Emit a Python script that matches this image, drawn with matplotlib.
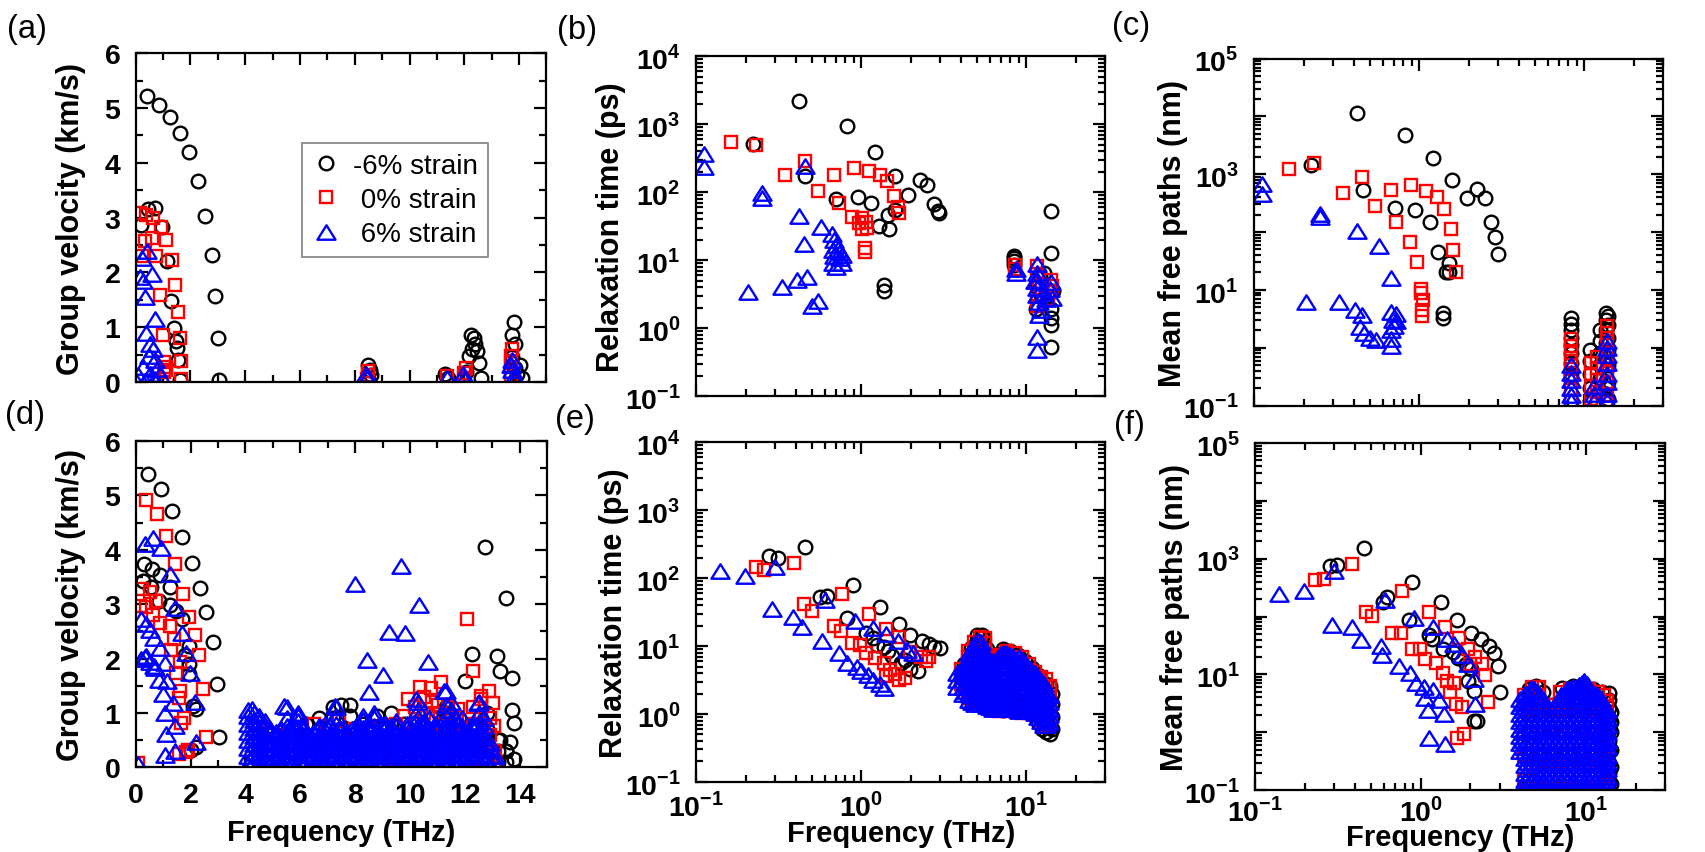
import numpy as np
import matplotlib.pyplot as plt
from matplotlib.path import Path
from matplotlib.ticker import MultipleLocator, LogLocator, NullFormatter, FuncFormatter

plt.rcParams['font.family'] = ['Liberation Sans', 'DejaVu Sans']
plt.rcParams['font.weight'] = 'bold'
plt.rcParams['axes.labelweight'] = 'bold'
plt.rcParams['mathtext.fontset'] = 'custom'
plt.rcParams['mathtext.rm'] = 'Liberation Sans'
plt.rcParams['mathtext.bf'] = 'Liberation Sans:bold'

# ---------------------------------------------------------------------------
# data (frequency in THz)
# ---------------------------------------------------------------------------

# (a) group velocity, km/s
a_black_f = [0.43, 0.85, 1.25, 1.63, 1.96, 2.28, 2.53, 2.77, 2.91, 3.02, 3.05,
             0.2, 0.45, 0.7, 0.95, 1.15, 1.3, 1.4, 1.47, 1.5, 1.53, 1.6,
             8.5, 8.55, 8.6, 8.5, 11.3, 11.4,
             12.25, 12.34, 12.4, 12.27, 12.17, 12.47, 12.53, 12.6, 12.08,
             13.81, 13.73, 13.86, 14.03, 13.94, 14.1, 13.75, 13.85]
a_black_v = [5.22, 5.05, 4.83, 4.55, 4.19, 3.67, 3.03, 2.32, 1.57, 0.81, 0.03,
             2.87, 3.15, 3.18, 2.83, 2.2, 1.48, 0.99, 0.75, 0.62, 0.4, 0.03,
             0.3, 0.22, 0.12, 0.05, 0.15, 0.07,
             0.86, 0.8, 0.7, 0.6, 0.47, 0.57, 0.34, 0.07, 0.18,
             1.09, 0.86, 0.7, 0.31, 0.14, 0.08, 0.45, 0.25]
a_red_f = [0.17, 0.39, 0.63, 0.91, 0.33, 0.59, 1.1, 0.23, 0.74, 1.31, 1.44, 0.87,
           1.54, 0.98, 1.63, 1.04, 1.67, 1.11, 1.67, 1.05, 1.12,
           8.45, 8.5, 8.5, 11.38, 12.0, 12.0, 12.05,
           13.73, 13.71, 13.69, 13.7, 13.72]
a_red_v = [3.08, 3.05, 3.0, 2.83, 2.58, 2.63, 2.59, 2.3, 2.3, 2.23, 1.77, 1.59,
           1.28, 0.86, 0.81, 0.37, 0.39, 0.21, 0.05, 0.18, 0.28,
           0.05, 0.12, 0.2, 0.1, 0.08, 0.17, 0.25,
           0.6, 0.47, 0.34, 0.18, 0.05]
a_blue_f = [0.42, 0.23, 0.59, 0.17, 0.26, 0.35, 0.69, 0.39, 0.52, 0.63, 0.48, 0.72,
            0.26, 0.78, 0.51, 0.08, 0.87, 0.69, 0.33, 0.02,
            8.42, 8.45, 11.36, 11.95, 12.0, 13.73, 13.7, 13.76, 13.8, 13.84]
a_blue_v = [2.39, 2.26, 1.97, 1.92, 1.84, 1.55, 1.15, 0.89, 0.7, 0.6, 0.47, 0.4,
            0.27, 0.24, 0.15, 0.12, 0.12, 0.05, 0.02, 0.02,
            0.14, 0.07, 0.08, 0.14, 0.05, 0.4, 0.31, 0.21, 0.11, 0.05]

# (d) group velocity, km/s : isolated points
d_black_f = [0.46, 0.91, 1.31, 1.7, 2.05, 2.35, 2.58, 2.81, 2.96, 3.03,
             0.3, 0.59, 0.87, 0.26, 0.57, 1.24, 0.85, 1.24, 1.48, 1.7, 1.96, 1.8,
             1.93, 1.96, 2.1, 2.2, 2.2, 2.02,
             12.75, 13.51, 12.25, 13.19, 13.29, 13.73, 12.0, 13.71, 13.8, 13.64,
             13.8, 13.5, 13.3]
d_black_v = [5.39, 5.12, 4.71, 4.24, 3.76, 3.3, 2.86, 2.3, 1.54, 0.56,
             3.73, 3.65, 3.54, 3.42, 3.31, 3.32, 3.05, 2.98, 2.88, 2.73, 2.23, 2.06,
             1.89, 1.71, 1.12, 1.07, 0.37, 0.32,
             4.05, 3.11, 2.09, 2.05, 1.77, 1.64, 1.59, 1.05, 0.82, 0.46,
             0.16, 0.3, 0.5]
d_red_f = [0.39, 0.76, 1.11, 1.44, 1.72, 1.93, 2.15, 2.32, 2.45, 2.56,
           0.24, 0.51, 0.17, 0.39, 0.75, 0.63, 0.87, 1.24, 1.39, 1.3, 1.6, 1.48,
           1.62, 1.58, 1.76, 1.66, 1.82, 1.58, 1.9, 0.07,
           12.08, 12.31, 11.14, 10.77, 10.38, 9.92, 12.89, 13.03, 12.6, 11.03,
           11.75, 13.05, 12.73, 13.03, 13.05]
d_red_v = [4.91, 4.66, 4.25, 3.73, 3.19, 2.76, 2.44, 2.06, 1.43, 0.55,
           3.28, 3.22, 2.97, 2.95, 3.05, 2.8, 2.65, 2.59, 2.36, 2.16, 1.94, 1.73,
           1.4, 1.27, 0.91, 0.81, 0.28, 0.25, 0.32, 0.07,
           2.73, 1.77, 1.56, 1.45, 1.47, 1.25, 1.4, 1.18, 1.31, 1.15,
           1.08, 0.76, 0.36, 0.23, 0.1]
d_blue_f = [0.33, 0.63, 0.94, 1.24, 1.44, 1.67, 1.83, 1.98, 2.15, 2.19,
            0.2, 0.39, 0.52, 0.68, 0.89, 0.2, 0.39, 0.65, 0.85, 1.07, 1.14, 0.98,
            1.37, 1.07, 1.44, 1.11, 1.08, 1.44, 0.33, 0.51, 0.69, 0.08,
            8.0, 9.66, 10.34, 9.23, 9.83, 8.42, 10.67, 9.01, 8.52, 11.23, 10.22,
            7.27, 5.42, 5.91, 4.24, 11.68, 12.47]
d_blue_v = [4.11, 4.22, 4.04, 3.56, 2.92, 2.46, 2.1, 1.73, 1.2, 0.46,
            2.73, 2.63, 2.53, 2.37, 2.2, 2.0, 2.04, 1.87, 1.61, 1.92, 1.58, 1.35,
            1.18, 0.99, 0.76, 0.62, 0.23, 0.3, 2.03, 1.94, 1.83, 0.05,
            3.37, 3.71, 2.99, 2.48, 2.47, 1.97, 1.94, 1.69, 1.38, 1.41, 1.25,
            1.12, 1.12, 0.99, 1.08, 0.89, 1.18]
# (d) optical band, listed per frequency column: (f, [velocities])
d_black_band = [(4.7, [0.1, 0.4, 0.7]), (5.2, [0.1, 0.4, 0.6]), (5.7, [0.1, 0.4, 0.7]),
                (6.2, [0.1, 0.4, 0.8]), (6.7, [0.1, 0.45, 0.9]), (7.2, [0.1, 0.5, 0.9, 1.1]),
                (7.5, [0.3, 0.7, 1.15]), (7.8, [0.1, 0.5, 0.95, 1.15]), (8.3, [0.1, 0.4, 0.8]),
                (8.8, [0.1, 0.5, 0.95]), (9.3, [0.1, 0.5, 1.0]), (9.8, [0.1, 0.4, 0.8]),
                (10.3, [0.1, 0.5, 0.85]), (10.8, [0.1, 0.5, 0.9]), (11.3, [0.1, 0.5, 1.0, 1.1]),
                (11.8, [0.1, 0.5, 0.9]), (12.3, [0.1, 0.4, 0.8]), (12.8, [0.1, 0.4, 0.7, 1.0]),
                (13.2, [0.1, 0.3, 0.5]), (13.5, [0.1, 0.3])]
d_red_band = [(4.5, [0.1, 0.4, 0.7]), (5.0, [0.1, 0.4, 0.6]), (5.5, [0.1, 0.4, 0.6]),
              (6.0, [0.1, 0.4, 0.7]), (6.5, [0.1, 0.4, 0.8]), (7.0, [0.1, 0.4, 0.75]),
              (7.4, [0.1, 0.45, 0.85]), (8.0, [0.1, 0.4, 0.7]), (8.5, [0.1, 0.4, 0.7]),
              (9.0, [0.1, 0.4, 0.75]), (9.5, [0.1, 0.4, 0.8]), (9.8, [0.2, 0.6, 0.95]),
              (10.2, [0.1, 0.4, 0.8, 1.1]), (10.5, [0.2, 0.6, 1.0, 1.3]),
              (10.8, [0.1, 0.5, 0.9, 1.2]), (11.1, [0.2, 0.6, 1.0]),
              (11.4, [0.1, 0.5, 0.9, 1.1]), (11.7, [0.2, 0.6, 0.9]), (12.0, [0.1, 0.4, 0.7]),
              (12.3, [0.1, 0.4, 0.8, 1.1]), (12.6, [0.2, 0.5, 0.9, 1.25]),
              (12.9, [0.1, 0.3, 0.6, 0.9]), (13.1, [0.1, 0.3])]
d_blue_band = [
    (4.1, [0.05, 0.2, 0.35, 0.5, 0.65, 0.8, 0.95, 1.05]),
    (4.3, [0.12, 0.27, 0.42, 0.57, 0.72, 0.87, 1.0]),
    (4.5, [0.0, 0.09, 0.24, 0.39, 0.54, 0.69, 0.84, 0.95]),
    (4.7, [0.16, 0.31, 0.46, 0.61, 0.76, 0.85]),
    (4.9, [0.05, 0.2, 0.35, 0.5, 0.65, 0.7]),
    (5.1, [0.12, 0.27, 0.42, 0.57, 0.65]),
    (5.3, [0.0, 0.09, 0.24, 0.39, 0.54, 0.7]),
    (5.5, [0.16, 0.31, 0.46, 0.61, 0.76, 0.9, 1.1]),
    (5.7, [0.05, 0.2, 0.35, 0.5, 0.65, 0.8]),
    (5.9, [0.12, 0.27, 0.42, 0.57, 0.72, 0.85, 0.95]),
    (6.1, [0.0, 0.09, 0.24, 0.39, 0.54, 0.69, 0.75]),
    (6.3, [0.16, 0.31, 0.46, 0.6]),
    (6.5, [0.05, 0.2, 0.35, 0.5, 0.65]),
    (6.7, [0.12, 0.27, 0.42, 0.57, 0.72, 0.75]),
    (6.9, [0.0, 0.09, 0.24, 0.39, 0.54, 0.69, 0.8]),
    (7.1, [0.16, 0.31, 0.46, 0.61, 0.76, 0.8]),
    (7.3, [0.05, 0.2, 0.35, 0.5, 0.65, 0.8, 0.95, 1.1]),
    (7.5, [0.12, 0.27, 0.42, 0.57, 0.7]),
    (7.7, [0.0, 0.09, 0.24, 0.39, 0.54, 0.65]),
    (7.9, [0.16, 0.31, 0.46, 0.61, 0.7]),
    (8.1, [0.05, 0.2, 0.35, 0.5, 0.65, 0.8]),
    (8.3, [0.12, 0.27, 0.42, 0.57, 0.72, 0.87, 0.95]),
    (8.5, [0.0, 0.09, 0.24, 0.39, 0.54, 0.69, 0.8]),
    (8.7, [0.16, 0.31, 0.46, 0.61, 0.76, 0.9, 1.0]),
    (8.9, [0.05, 0.2, 0.35, 0.5, 0.65, 0.8]),
    (9.1, [0.12, 0.27, 0.42, 0.57, 0.72, 0.8]),
    (9.3, [0.0, 0.09, 0.24, 0.39, 0.54, 0.69, 0.75]),
    (9.5, [0.16, 0.31, 0.46, 0.61, 0.76, 0.85]),
    (9.7, [0.05, 0.2, 0.35, 0.5, 0.65]),
    (9.9, [0.12, 0.27, 0.42, 0.57, 0.72, 0.8]),
    (10.1, [0.0, 0.09, 0.24, 0.39, 0.54, 0.69, 0.8]),
    (10.3, [0.16, 0.31, 0.46, 0.61, 0.76, 0.9, 1.05, 1.2]),
    (10.5, [0.05, 0.2, 0.35, 0.5, 0.65, 0.8, 0.85]),
    (10.7, [0.12, 0.27, 0.42, 0.57, 0.72, 0.9]),
    (10.9, [0.0, 0.09, 0.24, 0.39, 0.54, 0.69, 0.8]),
    (11.1, [0.16, 0.31, 0.46, 0.61, 0.76, 0.9]),
    (11.3, [0.05, 0.2, 0.35, 0.5, 0.65, 0.8, 0.95, 1.15, 1.4]),
    (11.5, [0.12, 0.27, 0.42, 0.57, 0.72, 0.87, 1.05, 1.2]),
    (11.7, [0.0, 0.09, 0.24, 0.39, 0.54, 0.69, 0.8]),
    (11.9, [0.16, 0.31, 0.46, 0.61, 0.76, 0.9]),
    (12.1, [0.05, 0.2, 0.35, 0.5, 0.65]),
    (12.3, [0.12, 0.27, 0.42, 0.57, 0.72, 0.8]),
    (12.5, [0.0, 0.09, 0.24, 0.39, 0.54, 0.69, 0.84, 1.0, 1.2]),
    (12.7, [0.16, 0.31, 0.46, 0.61, 0.76, 0.9]),
    (12.9, [0.05, 0.2, 0.35, 0.45]),
    (13.1, [0.12, 0.2])]

# (b) relaxation time, ps
b_black_f = [0.417, 0.824, 0.22, 1.21, 0.455, 1.6, 2.26, 2.5, 1.93, 0.953, 0.705, 1.15,
             2.77, 2.92, 2.96, 1.46, 1.6, 1.28, 1.47, 1.38, 1.38,
             8.43, 8.43, 8.43, 8.45, 14.0, 14.0, 12.8, 12.0, 12.3, 14.0, 14.0, 14.0,
             14.0, 13.6, 11.5, 14.5, 11.4]
b_black_t = [2218, 958, 506, 393, 174, 174, 150, 127, 90.6, 85, 80, 68.8,
             68, 53.6, 49.7, 46.7, 55, 31.3, 28.6, 4.3, 3.48,
             10.8, 9.6, 8.4, 11.5, 53.6, 12.6, 6.5, 5.8, 3.1, 1.9, 1.43, 1.12,
             0.53, 3.4, 4.0, 3.5, 1.9]
b_red_f = [0.163, 0.23, 0.459, 0.346, 0.681, 0.904, 1.106, 1.29, 1.43, 0.544, 1.57,
           0.735, 1.66, 1.68, 0.88, 1.01, 1.07, 0.962, 1.01, 1.08, 1.06, 1.06,
           8.5, 8.5, 11.5, 11.5, 11.9, 11.5, 11.5, 14.0, 13.8, 13.5, 12.5, 14.2]
b_red_t = [552, 487, 291, 176, 181, 226, 202, 176, 144, 105, 87,
           68.8, 60, 50, 42.8, 41.7, 36.7, 35, 28.6, 29.5, 15.3, 13,
           8.4, 7.5, 8.2, 6.2, 4.5, 3.07, 2.14, 5.07, 3.5, 2.7, 3.9, 4.2]
b_blue_f = [0.111, 0.111, 0.251, 0.251, 0.455, 0.417, 0.568, 0.45, 0.207, 0.33, 0.41,
            0.467, 0.505, 0.55, 0.664, 0.68, 0.706, 0.72, 0.74, 0.68, 0.67, 0.706,
            0.76, 0.74, 0.76, 0.67, 8.65, 8.65, 11.5, 11.5, 11.5, 11.5, 11.5, 11.9,
            12.3, 11.9, 14.0, 13.8, 14.2, 12.8, 13.2, 11.5, 11.5, 11.2]
b_blue_t = [370, 238, 96.6, 82, 247, 44.4, 30.5, 17.1, 3.35, 4.05, 5.07,
            5.6, 2.1, 2.54, 24.3, 20.1, 16.8, 14.7, 13, 11.4, 9.1, 8.0,
            9.1, 10.8, 12, 14, 7.4, 6.5, 8.9, 6.5, 5.07, 3.9, 3.07, 2.4,
            1.84, 1.56, 4.8, 3.7, 2.8, 3.3, 2.7, 0.73, 0.48, 5.0]

# (e) relaxation time, ps
e_black_f = [0.278, 0.312, 0.455, 0.565, 0.62, 0.891, 0.815, 1.30, 1.067, 1.17, 1.68,
             1.98, 2.32, 2.57, 2.77, 3.0, 1.25, 1.37, 1.53, 1.74, 1.98, 2.2, 1.45, 1.85]
e_black_t = [213, 200, 284, 53.6, 55, 78, 25.9, 37.7, 15.7, 13.1, 21.4,
             14.7, 11.9, 10.7, 9.8, 9.3, 10.5, 9.8, 7.2, 5.6, 4.64, 4.3, 8.5, 6.2]
e_red_f = [0.23, 0.257, 0.389, 0.45, 0.505, 0.762, 0.68, 0.75, 1.106, 0.88, 0.987,
           1.42, 1.7, 1.07, 1.21, 1.38, 1.49, 1.6, 1.84, 2.57, 1.98, 1.42, 1.68, 2.3, 2.45]
e_red_t = [146, 134, 166, 41.7, 32.4, 58.5, 19.6, 16.7, 29.7, 11.2, 10.2,
           17.8, 13.5, 7.9, 6.6, 5.6, 4.5, 3.9, 3.4, 6.8, 8.2, 3.6, 3.2, 7.0, 6.0]
e_blue_f = [0.14, 0.197, 0.301, 0.288, 0.385, 0.439, 0.582, 0.604, 0.731, 0.824, 0.914,
            0.938, 1.0, 1.1, 1.18, 1.29, 1.38, 1.18, 1.42, 1.66, 1.88, 2.05]
e_blue_t = [129, 107, 146, 35.4, 26.8, 19.1, 11.9, 48.4, 7.85, 5.6, 23.7,
            5.0, 4.3, 3.8, 3.2, 2.8, 2.4, 18.5, 14.9, 11.9, 8.8, 7.9]
e_black_band = [(4.2, [3.2, 4.5, 5.5]), (4.6, [1.7, 2.3, 7.5, 9.5]), (5.0, [1.5, 12.0, 14.5]),
                (5.4, [1.45, 13.5, 14.5]), (5.8, [1.3, 6.5, 9.0]), (6.4, [1.2, 6.8, 7.5]),
                (7.2, [1.15, 8.0, 9.0]), (8.0, [1.15, 8.0, 8.5]), (8.9, [1.1, 7.0, 7.5]),
                (9.8, [1.1, 6.0]), (10.8, [1.0, 4.8]), (11.8, [0.75, 3.8]),
                (12.5, [0.6, 0.8, 3.0]), (13.2, [0.55, 0.7, 2.8]),
                (13.8, [0.5, 0.65, 1.0, 1.6, 2.6]), (14.2, [0.6, 0.9, 1.4, 2.0])]
e_red_band = [(4.0, [2.8, 3.6, 4.6]), (4.4, [1.7, 2.2, 3.5, 5.5, 7.0, 8.5]),
              (4.8, [1.4, 2.0, 5.0, 9.0, 11.5]), (5.2, [1.35, 2.0, 6.0, 10.0, 13.5]),
              (5.6, [1.4, 2.2, 7.0, 11.0, 13.0]), (6.0, [1.2, 1.6, 5.5, 7.0]),
              (6.8, [1.1, 1.5, 6.5, 7.5]), (7.6, [1.1, 1.5, 7.0, 8.5]),
              (8.5, [1.1, 1.5, 6.5, 7.8]), (9.4, [1.05, 1.4, 5.5, 6.8]),
              (10.3, [1.05, 1.4, 4.5, 5.5]), (11.3, [1.0, 1.3, 3.6, 4.2]),
              (12.3, [0.8, 1.1, 3.0, 3.5]), (13.2, [0.7, 1.0, 2.5, 3.3]),
              (13.8, [0.8, 1.2, 1.8, 2.6])]
e_blue_band = [(3.8, [2.5, 3.2, 4.0]), (4.1, [2.0, 2.5, 3.2, 4.0, 5.0]),
               (4.3, [2.2, 2.8, 3.6, 4.5, 5.6]),
               (4.5, [1.6, 2.0, 2.5, 3.2, 4.0, 5.0, 6.3, 8.0]),
               (4.7, [1.5, 1.9, 2.4, 3.0, 3.8, 4.8, 6.0, 7.5, 9.5]),
               (4.9, [1.4, 1.8, 2.2, 2.8, 3.5, 4.5, 5.6, 7.0, 9.0, 11.0]),
               (5.1, [1.5, 1.9, 2.4, 3.1, 3.9, 5.0, 6.3, 8.0, 10.0, 12.0]),
               (5.3, [1.4, 1.8, 2.2, 2.8, 3.5, 4.5, 5.6, 7.0, 9.0, 11.5]),
               (5.55, [1.4, 1.75, 2.2, 2.8, 3.5, 4.5, 5.6, 7.0, 8.5]),
               (5.8, [1.3, 1.6, 2.0, 2.5, 3.2, 4.0, 5.0, 6.3]),
               (6.05, [1.25, 1.6, 2.0, 2.6, 3.3, 4.2, 5.2]),
               (6.3, [1.2, 1.5, 1.9, 2.4, 3.0, 3.8, 4.8, 6.0]),
               (6.6, [1.3, 1.65, 2.1, 2.6, 3.3, 4.2, 5.3, 6.5]),
               (6.9, [1.2, 1.5, 1.9, 2.4, 3.0, 3.8, 4.8, 6.0, 7.5]),
               (7.2, [1.3, 1.65, 2.1, 2.6, 3.3, 4.2, 5.3, 6.7, 8.0]),
               (7.5, [1.2, 1.5, 1.9, 2.4, 3.0, 3.8, 4.8, 6.0, 7.8]),
               (7.85, [1.3, 1.6, 2.0, 2.6, 3.3, 4.2, 5.2, 6.5, 7.5]),
               (8.2, [1.2, 1.5, 1.9, 2.4, 3.0, 3.8, 4.8, 6.0, 7.2]),
               (8.6, [1.25, 1.55, 2.0, 2.5, 3.2, 4.1, 5.2, 6.3]),
               (9.0, [1.1, 1.4, 1.8, 2.3, 2.9, 3.7, 4.6, 5.8, 6.8]),
               (9.4, [1.2, 1.5, 1.95, 2.5, 3.2, 4.1, 5.1, 6.2]),
               (9.8, [1.1, 1.4, 1.8, 2.3, 2.9, 3.7, 4.6, 5.6]),
               (10.2, [1.2, 1.5, 1.95, 2.5, 3.2, 4.0, 5.0]),
               (10.7, [1.1, 1.4, 1.8, 2.3, 2.9, 3.7, 4.4]),
               (11.2, [1.05, 1.3, 1.7, 2.1, 2.6, 3.3, 4.0]),
               (11.7, [0.9, 1.15, 1.45, 1.85, 2.3, 2.9, 3.5]),
               (12.2, [0.8, 1.0, 1.3, 1.65, 2.1, 2.6, 3.1]),
               (12.8, [0.7, 0.9, 1.15, 1.45, 1.85, 2.3, 2.8]),
               (13.2, [0.7, 0.85, 1.1, 1.35, 1.7, 2.1]),
               (13.6, [0.75, 0.95, 1.2, 1.5, 1.9])]

# (c) mean free path, nm
c_black_f = [0.418, 0.822, 1.22, 0.221, 1.58, 0.459, 2.25, 1.94, 2.5, 0.71, 0.948, 1.16,
             2.73, 2.88, 2.99, 1.3, 1.51, 1.45, 1.52, 1.4, 1.4]
c_black_m = [11500, 4786, 1932, 1449, 780, 535, 560, 384, 384, 263, 244, 148,
             148, 80.7, 41.6, 46, 29.3, 20.7, 20, 3.93, 3.27]
c_red_f = [0.163, 0.231, 0.452, 0.343, 0.679, 0.889, 1.1, 1.28, 1.42, 0.538, 0.728,
           1.55, 0.877, 1.61, 0.964, 1.67, 1.02, 1.03, 1.05, 1.04, 1.04]
c_red_m = [1247, 1565, 881, 467, 543, 651, 519, 401, 255, 279, 150,
           114, 67, 48, 30.3, 20.1, 10.2, 8.75, 6.8, 4.4, 3.5]
c_blue_f = [0.111, 0.111, 0.252, 0.252, 0.418, 0.568, 0.673, 0.207, 0.326, 0.407, 0.452,
            0.44, 0.46, 0.5, 0.55, 0.67, 0.67, 0.67, 0.69, 0.72, 0.72, 0.7, 0.67]
c_blue_m = [671, 447, 209, 180, 106, 58, 16, 6.2, 6.2, 4.4, 3.7,
            2.24, 1.8, 1.47, 1.37, 1.42, 1.05, 4.1, 3.0, 3.8, 2.85, 2.4, 2.0]
c_black_band = [(8.3, [3.2, 2.6, 2.0, 1.5, 1.1, 0.8, 0.55, 0.35]),
                (10.8, [0.9, 0.6, 0.35, 0.2, 0.12]), (12.5, [2.0, 1.3, 0.8, 0.5, 0.3, 0.18]),
                (13.5, [4.0, 3.0, 2.0, 1.2, 0.7, 0.4, 0.2, 0.12]),
                (14.0, [3.5, 2.5, 1.5, 0.9, 0.5, 0.25, 0.13])]
c_red_band = [(8.3, [1.4, 1.06, 0.8, 0.6, 0.42, 0.3, 0.19, 0.12]),
              (11.0, [0.55, 0.35, 0.22, 0.13]), (12.0, [0.7, 0.45, 0.28, 0.17, 0.11]),
              (13.7, [2.4, 1.8, 1.3, 0.9, 0.6, 0.4, 0.25, 0.15, 0.11])]
c_blue_band = [(8.3, [0.5, 0.37, 0.28, 0.2, 0.15, 0.12]), (11.5, [0.22, 0.16, 0.12]),
               (13.7, [1.3, 1.0, 0.75, 0.55, 0.35, 0.25, 0.16, 0.12])]

# (f) mean free path, nm
f_black_f = [0.454, 0.282, 0.313, 0.593, 0.625, 0.891, 0.845, 1.33, 1.66, 2.03, 2.32,
             2.58, 2.79, 2.92, 3.03, 1.12, 1.17, 1.36, 1.56, 1.69, 1.88, 2.03, 1.93,
             2.09, 2.09, 2.2]
f_black_m = [1527, 740, 775, 176, 214, 392, 86.7, 176, 86.7, 52.6, 40.7,
             31, 23, 14.2, 5.07, 47.3, 40.7, 27.9, 24, 19.1, 15, 12.6, 7.7,
             5.2, 1.58, 1.58]
f_red_f = [0.23, 0.259, 0.385, 0.773, 0.465, 0.506, 1.12, 0.673, 0.76, 1.4, 1.71, 0.883,
           0.99, 1.06, 1.23, 1.93, 2.14, 2.36, 2.45, 2.54, 1.36, 1.44, 1.6, 1.51, 1.64,
           1.78, 1.66, 1.83, 2.0]
f_red_m = [423, 443, 810, 281, 121, 104, 121, 51, 51, 66, 42, 27.9,
           27.9, 18.6, 16, 27.9, 20, 15, 9.7, 3.37, 10.5, 7.7, 7.0, 4.9, 3.1,
           2.7, 0.8, 0.93, 15]
f_blue_f = [0.139, 0.196, 0.301, 0.289, 0.385, 0.436, 0.574, 0.583, 0.605, 0.906, 0.741,
            0.859, 1.19, 1.44, 1.6, 1.78, 1.93, 2.09, 2.14, 0.94, 1.05, 1.06, 1.19,
            1.29, 1.39, 1.13, 1.4, 1.1]
f_blue_m = [249, 281, 617, 72, 66, 39, 31, 21.6, 193, 93, 14.2,
            10.5, 66, 40.7, 33, 22, 15, 8.3, 3.1, 7.2, 6.0, 3.9, 5.3,
            3.6, 2.05, 0.8, 0.64, 2.4]
f_black_band = [(4.5, [0.15, 0.4, 1.0, 2.5, 5.5]), (5.0, [0.12, 0.4, 1.0, 2.5, 6.2]),
                (5.5, [0.12, 0.4, 1.0, 2.5, 5.0]), (6.2, [0.12, 0.4, 1.0, 2.0, 3.0]),
                (7.2, [0.12, 0.4, 1.0, 2.5, 5.8]), (8.3, [0.12, 0.4, 1.0, 2.5, 6.2]),
                (9.5, [0.12, 0.4, 1.0, 2.5, 6.0]), (11.0, [0.12, 0.4, 1.0, 2.5, 5.5]),
                (12.5, [0.12, 0.4, 1.0, 2.5, 5.0]),
                (13.8, [0.1, 0.14, 0.2, 0.3, 0.45, 0.7, 1.1, 1.7, 2.6, 3.6, 4.8]),
                (14.2, [0.13, 0.25, 0.5, 1.0, 1.5, 2.2])]
f_red_band = [(4.2, [0.15, 0.4, 1.0, 2.5, 4.5]), (4.7, [0.11, 0.3, 0.8, 2.0, 4.5, 6.0]),
              (5.2, [0.11, 0.3, 0.8, 2.0, 4.5, 6.0]), (5.8, [0.11, 0.3, 0.8, 2.0, 3.0]),
              (6.3, [0.11, 0.3, 0.8, 2.0, 2.5]), (7.0, [0.11, 0.3, 0.8, 2.0, 5.0]),
              (8.0, [0.11, 0.3, 0.8, 2.0, 5.5]), (9.0, [0.11, 0.3, 0.8, 2.0, 5.5]),
              (10.5, [0.11, 0.3, 0.8, 2.0, 5.5]), (11.8, [0.11, 0.3, 0.8, 2.0, 5.0]),
              (12.8, [0.11, 0.3, 0.8, 2.0, 4.5]),
              (13.5, [0.12, 0.2, 0.35, 0.6, 1.0, 1.7, 2.8, 3.5])]
f_blue_band = [
    (4.0, [0.48, 0.65, 0.87, 1.15, 1.55, 2.1, 2.8, 3.7]),
    (4.15, [0.56, 0.75, 1.0, 1.35, 1.8, 2.4, 3.2]),
    (4.3, [0.11, 0.15, 0.2, 0.27, 0.36, 0.48, 0.65, 0.87, 1.15, 1.55, 2.1, 2.8, 3.7, 4.6]),
    (4.45, [0.13, 0.17, 0.23, 0.31, 0.41, 0.56, 0.75, 1.0, 1.35, 1.8, 2.4, 3.2, 4.3]),
    (4.65, [0.11, 0.15, 0.2, 0.27, 0.36, 0.48, 0.65, 0.87, 1.15, 1.55, 2.1, 2.8, 3.7, 4.9, 5.8]),
    (4.85, [0.13, 0.17, 0.23, 0.31, 0.41, 0.56, 0.75, 1.0, 1.35, 1.8, 2.4, 3.2, 4.3, 5.7]),
    (5.05, [0.11, 0.15, 0.2, 0.27, 0.36, 0.48, 0.65, 0.87, 1.15, 1.55, 2.1, 2.8, 3.7, 4.9]),
    (5.25, [0.13, 0.17, 0.23, 0.31, 0.41, 0.56, 0.75, 1.0, 1.35, 1.8, 2.4, 3.2, 4.3]),
    (5.5, [0.11, 0.15, 0.2, 0.27, 0.36, 0.48, 0.65, 0.87, 1.15, 1.55, 2.1, 2.8, 3.7]),
    (5.75, [0.13, 0.17, 0.23, 0.31, 0.41, 0.56, 0.75, 1.0, 1.35, 1.8, 2.4]),
    (6.0, [0.11, 0.15, 0.2, 0.27, 0.36, 0.48, 0.65, 0.87, 1.15, 1.55, 2.1]),
    (6.25, [0.13, 0.17, 0.23, 0.31, 0.41, 0.56, 0.75, 1.0, 1.35, 1.8, 2.4]),
    (6.5, [0.11, 0.15, 0.2, 0.27, 0.36, 0.48, 0.65, 0.87, 1.15, 1.55, 2.1, 2.8]),
    (6.8, [0.13, 0.17, 0.23, 0.31, 0.41, 0.56, 0.75, 1.0, 1.35, 1.8, 2.4, 3.2]),
    (7.1, [0.11, 0.15, 0.2, 0.27, 0.36, 0.48, 0.65, 0.87, 1.15, 1.55, 2.1, 2.8, 3.7, 4.5]),
    (7.4, [0.13, 0.17, 0.23, 0.31, 0.41, 0.56, 0.75, 1.0, 1.35, 1.8, 2.4, 3.2, 4.3]),
    (7.7, [0.11, 0.15, 0.2, 0.27, 0.36, 0.48, 0.65, 0.87, 1.15, 1.55, 2.1, 2.8, 3.7, 4.9, 5.5]),
    (8.05, [0.13, 0.17, 0.23, 0.31, 0.41, 0.56, 0.75, 1.0, 1.35, 1.8, 2.4, 3.2, 4.3, 5.7]),
    (8.4, [0.11, 0.15, 0.2, 0.27, 0.36, 0.48, 0.65, 0.87, 1.15, 1.55, 2.1, 2.8, 3.7, 4.9, 6.0]),
    (8.75, [0.13, 0.17, 0.23, 0.31, 0.41, 0.56, 0.75, 1.0, 1.35, 1.8, 2.4, 3.2, 4.3, 5.7]),
    (9.1, [0.11, 0.15, 0.2, 0.27, 0.36, 0.48, 0.65, 0.87, 1.15, 1.55, 2.1, 2.8, 3.7, 4.9, 6.5]),
    (9.4, [0.13, 0.17, 0.23, 0.31, 0.41, 0.56, 0.75, 1.0, 1.35, 1.8, 2.4, 3.2, 4.3, 5.7, 7.0]),
    (9.7, [0.11, 0.15, 0.2, 0.27, 0.36, 0.48, 0.65, 0.87, 1.15, 1.55, 2.1, 2.8, 3.7, 4.9, 6.5, 7.8]),
    (10.1, [0.13, 0.17, 0.23, 0.31, 0.41, 0.56, 0.75, 1.0, 1.35, 1.8, 2.4, 3.2, 4.3, 5.7, 6.8]),
    (10.5, [0.11, 0.15, 0.2, 0.27, 0.36, 0.48, 0.65, 0.87, 1.15, 1.55, 2.1, 2.8, 3.7, 4.9, 5.5]),
    (10.95, [0.13, 0.17, 0.23, 0.31, 0.41, 0.56, 0.75, 1.0, 1.35, 1.8, 2.4, 3.2, 4.3, 5.0]),
    (11.4, [0.11, 0.15, 0.2, 0.27, 0.36, 0.48, 0.65, 0.87, 1.15, 1.55, 2.1, 2.8, 3.7, 4.6]),
    (11.85, [0.13, 0.17, 0.23, 0.31, 0.41, 0.56, 0.75, 1.0, 1.35, 1.8, 2.4, 3.2, 4.3]),
    (12.3, [0.11, 0.15, 0.2, 0.27, 0.36, 0.48, 0.65, 0.87, 1.15, 1.55, 2.1, 2.8, 3.7]),
    (12.7, [0.13, 0.17, 0.23, 0.31, 0.41, 0.56, 0.75, 1.0, 1.35, 1.8, 2.4, 3.2]),
    (13.1, [0.15, 0.2, 0.27, 0.36, 0.48, 0.65, 0.87, 1.15, 1.55, 2.1, 2.6]),
    (13.4, [0.17, 0.23, 0.31, 0.41, 0.56, 0.75, 1.0, 1.35, 1.8, 2.4])]

LEGEND_LABELS = ['-6% strain', ' 0% strain', ' 6% strain']


# ---------------------------------------------------------------------------
# helpers
# ---------------------------------------------------------------------------

def expand(columns):
    """(f, [values]) columns -> flat x / y lists"""
    xs, ys = [], []
    for f, vals in columns:
        xs += [f] * len(vals)
        ys += vals
    return xs, ys


def join(xs, ys, columns):
    bx, by = expand(columns)
    return xs + bx, ys + by


TRI = Path([(-1, -0.8), (1, -0.8), (0, 0.8), (-1, -0.8)],
           [Path.MOVETO, Path.LINETO, Path.LINETO, Path.CLOSEPOLY])

STYLE = {
    'k': dict(marker='o', ms=9.8, mec='black'),
    'r': dict(marker='s', ms=8.2, mec='#ff0000'),
    'b': dict(marker=TRI, ms=13, mec='#0000ff'),
}


def draw(ax, series):
    for key, (xs, ys), lab in zip('krb', series, LEGEND_LABELS):
        ax.plot(xs, ys, ls='none', mfc='none', mew=1.7, label=lab, **STYLE[key])


def log_fmt(show):
    def f(v, pos):
        e = int(round(np.log10(v)))
        return r'$\mathbf{10}^{\mathrm{%d}}$' % e if e in show else ''
    return FuncFormatter(f)


def style_axes(ax):
    for s in ax.spines.values():
        s.set_linewidth(1.6)
    ax.tick_params(which='both', direction='in', top=True, right=True,
                   width=1.6, labelsize=20.5)
    ax.tick_params(which='major', length=8.5)
    ax.tick_params(which='minor', length=5)


def linear_axes(ax, bottom_labels):
    ax.set_xlim(0, 15)
    ax.set_ylim(0, 6)
    ax.xaxis.set_major_locator(MultipleLocator(2))
    ax.xaxis.set_minor_locator(MultipleLocator(1))
    ax.yaxis.set_major_locator(MultipleLocator(1))
    ax.yaxis.set_minor_locator(MultipleLocator(0.5))
    style_axes(ax)
    ax.tick_params(axis='x', pad=10.5, labelbottom=bottom_labels)
    ax.tick_params(axis='y', pad=11)


def log_axes(ax, ymax, yshow, bottom_labels, xpad):
    ax.set_xscale('log')
    ax.set_yscale('log')
    ax.set_xlim(0.1, 30)
    ax.set_ylim(0.1, ymax)
    for axis in (ax.xaxis, ax.yaxis):
        axis.set_major_locator(LogLocator(base=10, numticks=20))
        axis.set_minor_locator(LogLocator(base=10, subs=np.arange(2, 10) * 1.0, numticks=100))
        axis.set_minor_formatter(NullFormatter())
    ax.xaxis.set_major_formatter(log_fmt({-1, 0, 1}))
    ax.yaxis.set_major_formatter(log_fmt(yshow))
    style_axes(ax)
    ax.tick_params(axis='x', pad=xpad, labelbottom=bottom_labels)
    ax.tick_params(axis='y', pad=11)


def xlabel(ax, y):
    ax.set_xlabel('Frequency (THz)', fontsize=21)
    ax.xaxis.set_label_coords(0.5, y)
    ax.xaxis.label.set_verticalalignment('center')


# ---------------------------------------------------------------------------
# figure
# ---------------------------------------------------------------------------

W, H = 1705, 853
fig = plt.figure(figsize=(W / 100, H / 100), dpi=100)


def px_axes(left, top, right, bottom):
    return fig.add_axes([left / W, 1 - bottom / H, (right - left) / W, (bottom - top) / H])


ax_a = px_axes(135.7, 54.3, 546.4, 382.9)
ax_b = px_axes(696.1, 57.3, 1105.3, 397.0)
ax_c = px_axes(1254.2, 59.6, 1663.0, 406.5)
ax_d = px_axes(135.7, 442.1, 547.1, 768.2)
ax_e = px_axes(696.1, 443.3, 1105.3, 782.9)
ax_f = px_axes(1255.4, 443.9, 1664.8, 791.2)

# (a)
draw(ax_a, [(a_black_f, a_black_v), (a_red_f, a_red_v), (a_blue_f, a_blue_v)])
linear_axes(ax_a, False)
ax_a.set_ylabel('Group velocity (km/s)', fontsize=22)
ax_a.yaxis.set_label_coords(-0.121, 0.5)
leg = ax_a.legend(loc='upper right', bbox_to_anchor=(0.858, 0.727), borderaxespad=0,
                  fancybox=False, edgecolor='#7f7f7f', framealpha=1,
                  prop={'family': 'Liberation Sans', 'weight': 'normal', 'size': 20},
                  handlelength=1.0, handletextpad=0.5, labelspacing=0.3,
                  borderpad=0.35, numpoints=1)
leg.get_frame().set_linewidth(1.2)

# (d)
draw(ax_d, [join(d_black_f, d_black_v, d_black_band),
            join(d_red_f, d_red_v, d_red_band),
            join(d_blue_f, d_blue_v, d_blue_band)])
linear_axes(ax_d, True)
ax_d.set_ylabel('Group velocity (km/s)', fontsize=22)
ax_d.yaxis.set_label_coords(-0.121, 0.5)
xlabel(ax_d, -0.2)

# (b)
draw(ax_b, [(b_black_f, b_black_t), (b_red_f, b_red_t), (b_blue_f, b_blue_t)])
log_axes(ax_b, 1e4, {-1, 0, 1, 2, 3, 4}, False, 6)
ax_b.set_ylabel('Relaxation time (ps)', fontsize=22)
ax_b.yaxis.set_label_coords(-0.171, 0.5)

# (e)
draw(ax_e, [join(e_black_f, e_black_t, e_black_band),
            join(e_red_f, e_red_t, e_red_band),
            join(e_blue_f, e_blue_t, e_blue_band)])
log_axes(ax_e, 1e4, {-1, 0, 1, 2, 3, 4}, True, 6.5)
ax_e.set_ylabel('Relaxation time (ps)', fontsize=22)
ax_e.yaxis.set_label_coords(-0.164, 0.5)
xlabel(ax_e, -0.150)

# (c)
draw(ax_c, [join(c_black_f, c_black_m, c_black_band),
            join(c_red_f, c_red_m, c_red_band),
            join(c_blue_f, c_blue_m, c_blue_band)])
log_axes(ax_c, 1e5, {-1, 1, 3, 5}, False, 6)
ax_c.set_ylabel('Mean free paths (nm)', fontsize=22)
ax_c.yaxis.set_label_coords(-0.162, 0.5)

# (f)
draw(ax_f, [join(f_black_f, f_black_m, f_black_band),
            join(f_red_f, f_red_m, f_red_band),
            join(f_blue_f, f_blue_m, f_blue_band)])
log_axes(ax_f, 1e5, {-1, 1, 3, 5}, True, 4.5)
ax_f.set_ylabel('Mean free paths (nm)', fontsize=22)
ax_f.yaxis.set_label_coords(-0.16, 0.5)
xlabel(ax_f, -0.135)

# panel letters
for lab, x, y in [('(a)', 7, 14), ('(b)', 556.6, 14.8), ('(c)', 1112, 11.4),
                  ('(d)', 5.4, 400), ('(e)', 554.8, 404), ('(f)', 1113.8, 410)]:
    fig.text(x / W, 1 - y / H, lab, fontsize=23.5, fontweight='normal', ha='left', va='top')

fig.savefig('out.png', dpi=100)
